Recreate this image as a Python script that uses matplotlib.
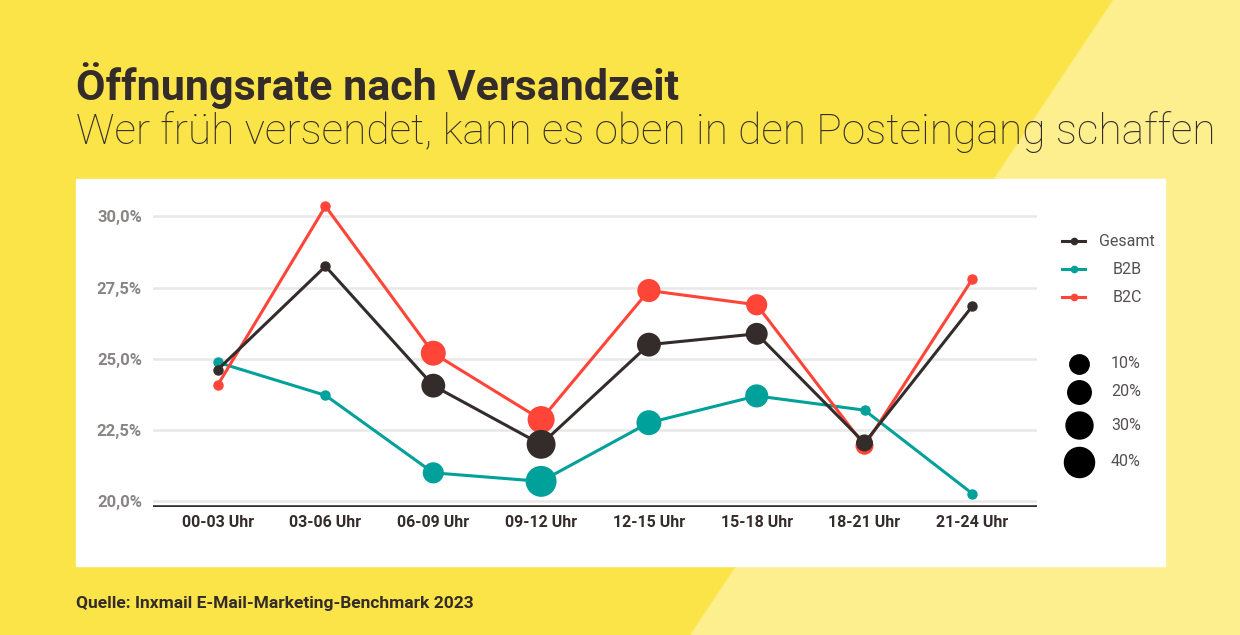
import numpy as np
import matplotlib
matplotlib.use("Agg")
import matplotlib.pyplot as plt
from matplotlib.patches import Polygon, Rectangle
from matplotlib.lines import Line2D

# ---- data -------------------------------------------------------------------
slots = ["00-03 Uhr", "03-06 Uhr", "06-09 Uhr", "09-12 Uhr",
         "12-15 Uhr", "15-18 Uhr", "18-21 Uhr", "21-24 Uhr"]
gesamt = [24.62, 28.25, 24.06, 22.0, 25.5, 25.88, 22.05, 26.85]
b2b = [24.88, 23.72, 21.0, 20.7, 22.76, 23.7, 23.2, 20.27]
b2c = [24.08, 30.36, 25.2, 22.87, 27.4, 26.9, 21.95, 27.8]
# share of mailings per slot (bubble size); nan = plain dot only
share_gesamt = [np.nan, np.nan, 21, 36, 21, 16, 5, np.nan]
share_b2b = [np.nan, np.nan, 14, 43, 24, 19, np.nan, np.nan]
share_b2c = [np.nan, np.nan, 24, 30, 19, 14, 7, np.nan]
size_steps = [10, 20, 30, 40]
yticks = [20.0, 22.5, 25.0, 27.5, 30.0]

YELLOW = "#FAE448"
LIGHT = "#FDEE8E"
DARK = "#342C2A"
TEAL = "#00A19A"
RED = "#FF4438"
GREY = "#8A8585"

plt.rcParams["font.family"] = ["Roboto", "DejaVu Sans"]


def bubble_s(v):
    # bubble diameter^2 in px is ~ 200 + 17.6 * share; convert px -> pt
    return (200 + 17.6 * np.asarray(v, dtype=float)) * 0.72 ** 2


fig = plt.figure(figsize=(12.4, 6.35), dpi=100)
bg = fig.add_axes([0, 0, 1, 1])
bg.set_xlim(0, 1240); bg.set_ylim(635, 0); bg.axis("off")
bg.add_patch(Rectangle((0, 0), 1240, 635, color=YELLOW, zorder=0))
bg.add_patch(Polygon([(1113, 0), (1240, 0), (1240, 635), (690, 635)],
                     closed=True, color=LIGHT, zorder=1))
bg.add_patch(Rectangle((76, 179), 1089, 387, color="white", zorder=2))

bg.text(76, 100, "Öffnungsrate nach Versandzeit", fontsize=31,
        fontweight="bold", color=DARK, va="baseline", zorder=3)
bg.text(76, 144, "Wer früh versendet, kann es oben in den Posteingang schaffen",
        fontsize=30.6, fontweight="light", color=DARK, va="baseline", zorder=3)
bg.text(76, 608, "Quelle: Inxmail E-Mail-Marketing-Benchmark 2023", fontsize=12.5,
        fontweight="bold", color=DARK, va="baseline", zorder=3)

# legend (series)
for i, (name, col) in enumerate([("Gesamt", DARK), ("B2B", TEAL), ("B2C", RED)]):
    yy = 241 + i * 28
    bg.add_line(Line2D([1062, 1085], [yy, yy], color=col, lw=2.2, zorder=3))
    bg.plot([1073.5], [yy], "o", color=col, markersize=4.5, zorder=4)
    bg.text(1127, yy, name, fontsize=11.5, color="#555050", ha="center",
            va="center", zorder=3)
# legend (bubble size)
for v, yy in zip(size_steps, [364, 392, 425, 462]):
    bg.scatter([1079], [yy], s=bubble_s(v), color="black", zorder=3)
    bg.text(1111, yy, f"{v}%", fontsize=11.5, color="#555050", va="center",
            zorder=3)

# ---- main chart ---------------------------------------------------------------
ax = fig.add_axes([153 / 1240, 1 - 507 / 635, (1037 - 153) / 1240, (507 - 188) / 635])
ax.patch.set_alpha(0)
x = np.arange(len(slots))
for vals, share, col, z in [(b2b, share_b2b, TEAL, 3), (b2c, share_b2c, RED, 4),
                            (gesamt, share_gesamt, DARK, 5)]:
    ax.plot(x, vals, color=col, lw=2.2, marker="o", markersize=6.5, zorder=z)
    ax.scatter(x, vals, s=bubble_s(share), color=col, zorder=z, linewidths=0)

ax.set_xlim(-0.6, 7.6)
ax.set_ylim(19.8, 31.0)
ax.set_yticks(yticks)
ax.set_yticklabels([f"{t:.1f}%".replace(".", ",") for t in yticks],
                   fontsize=12, fontweight="bold", color=GREY)
ax.set_xticks(x)
ax.set_xticklabels(slots, fontsize=11.5, fontweight="bold", color=DARK)
ax.tick_params(length=0, pad=6)
ax.tick_params(axis="y", pad=8)
ax.grid(axis="y", color="#E8E8E8", lw=1.8)
ax.set_axisbelow(True)
for sp in ax.spines.values():
    sp.set_visible(False)
ax.axhline(19.8, color=DARK, lw=2.6, zorder=2)

fig.savefig("out.png", dpi=100)
